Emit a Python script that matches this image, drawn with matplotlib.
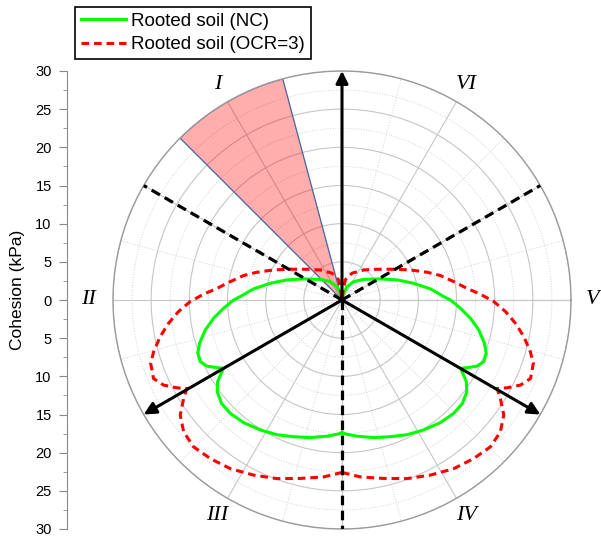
import numpy as np
import matplotlib
matplotlib.use("Agg")
import matplotlib.pyplot as plt
from matplotlib.lines import Line2D
from matplotlib.ticker import MultipleLocator, FuncFormatter

plt.rcParams['font.family'] = ['Liberation Sans', 'DejaVu Sans']

# right half of each curve (angle in degrees, cohesion in kPa), the left half is its mirror image
nc_angle = [-90, -87.9, -83.7, -77, -70.5, -64.2, -57.9, -51.2, -45.4, -40.7, -36.4, -33.3, -30.9, -30,
            -28.8, -26.1, -23.5, -20.3, -16.9, -12.4, -8.1, -4, 0, 1.9, 7.1, 13.1, 20, 28.7,
            43.8, 57.6, 69.4, 76.6, 90]
nc_cohesion = [17.4, 17.6, 17.95, 18.5, 19.0, 19.6, 20.1, 20.6, 20.85, 20.8, 20.3, 19.5, 18.35, 17.9,
               18.45, 19.7, 20.25, 20.15, 19.5, 18.35, 17.0, 15.55, 14.2, 13.35, 11.7, 9.65, 7.7, 5.75,
               3.9, 2.85, 1.85, 0.9, 0.0]

ocr_angle = [-90, -88.9, -84.1, -76.9, -70, -63.2, -56.5, -50.3, -44.7, -39.8, -35.4, -31.8, -29.7,
             -28, -25.5, -22.6, -18.3, -15.4, -11.4, -7.7, -4.1, -0.6, 2.4, 5.3, 9.3, 13.9,
             18, 23.7, 30.7, 41.3, 54.2, 69.5, 80.5, 82.5, 90]
ocr_cohesion = [22.6, 22.7, 23.3, 24.0, 24.9, 25.7, 26.5, 27.0, 27.35, 27.0, 26.0, 24.4, 23.4,
                24.5, 25.9, 26.75, 26.4, 25.6, 24.3, 22.95, 21.5, 19.9, 18.15, 16.45, 14.85, 13.3,
                11.75, 9.8, 7.9, 6.1, 4.85, 3.75, 2.7, 1.5, 0.0]

arrow_angles = [90, 210, 330]
dashed_angles = [30, 150, 270]
wedge_from, wedge_to = 105, 135
sector_names = ["V", "VI", "I", "II", "III", "IV"]
sector_angles = [0, 60, 120, 180, 240, 300]
r_max = 30


def mirror(angle, value):
    a = np.asarray(angle, float)
    v = np.asarray(value, float)
    full_a = np.concatenate([a, 180 - a[::-1][1:]])
    full_v = np.concatenate([v, v[::-1][1:]])
    return np.deg2rad(full_a), full_v


fig = plt.figure(figsize=(6.01, 5.37), dpi=100)
ax = fig.add_axes([113 / 601, 8 / 537, 458 / 601, 458 / 537], projection='polar')
ax.set_ylim(0, r_max)

# grid: solid every 5 kPa / 30 deg, dotted in between
ax.yaxis.set_major_locator(MultipleLocator(5))
ax.yaxis.set_minor_locator(MultipleLocator(2.5))
ax.xaxis.set_major_locator(MultipleLocator(np.pi / 6))
ax.xaxis.set_minor_locator(MultipleLocator(np.pi / 12))
ax.grid(which='major', color='#c6c6c6', lw=0.8, ls='-')
ax.grid(which='minor', color='#d2d2d2', lw=0.7, ls=':')
ax.set_xticklabels([])
ax.set_yticklabels([])
ax.tick_params(which='both', length=0)
ax.spines['polar'].set_color('#9a9a9a')
ax.spines['polar'].set_linewidth(1.0)

# shaded sector
ax.bar(np.deg2rad((wedge_from + wedge_to) / 2), r_max, width=np.deg2rad(wedge_to - wedge_from),
       bottom=0, color=(1, 0, 0, 0.32), edgecolor='#4a64a0', lw=0.9, zorder=1.6)

th, r = mirror(nc_angle, nc_cohesion)
ax.plot(th, r, color='#00ff00', lw=2.2, zorder=3)
th, r = mirror(ocr_angle, ocr_cohesion)
ax.plot(th, r, color='#ff0000', lw=2.2, ls=(0, (2.5, 1.6)), zorder=3)

for a in dashed_angles:
    ax.plot([np.deg2rad(a)] * 2, [0, r_max], color='k', lw=2.3, ls=(0, (3, 1.7)), zorder=4)

for a in arrow_angles:
    ax.annotate('', xy=(np.deg2rad(a), r_max), xytext=(0, 0),
                arrowprops=dict(arrowstyle='-|>', color='k', lw=2.2, mutation_scale=18,
                                shrinkA=0, shrinkB=0), zorder=5)

for name, a in zip(sector_names, sector_angles):
    rr = {0: 32.8, 180: 33.2}.get(a, 32.6)
    ax.text(np.deg2rad(a), rr, name, ha='center', va='center', fontsize=16,
            family='Liberation Serif', style='italic', clip_on=False)

# linear cohesion scale on the left
ax2 = fig.add_axes([67 / 601, 8 / 537, 0.001, 458 / 537])
ax2.set_ylim(-r_max, r_max)
ax2.set_xticks([])
for s in ['top', 'right', 'bottom']:
    ax2.spines[s].set_visible(False)
ax2.spines['left'].set_color('#8a8a8a')
ax2.patch.set_visible(False)
ax2.yaxis.set_major_locator(MultipleLocator(5))
ax2.yaxis.set_minor_locator(MultipleLocator(2.5))
ax2.yaxis.set_major_formatter(FuncFormatter(lambda v, p: f"{abs(v):.0f}"))
ax2.tick_params(which='major', length=6, color='#8a8a8a', labelsize=10.5, pad=5)
ax2.tick_params(which='minor', length=3, color='#8a8a8a')
fig.text(18 / 601, 1 - 290 / 537, 'Cohesion (kPa)', rotation=90, ha='center', va='center', fontsize=12.5)

handles = [Line2D([], [], color='#00ff00', lw=2.2),
           Line2D([], [], color='#ff0000', lw=2.2, ls=(0, (2.5, 1.6)))]
leg = fig.legend(handles, ['Rooted soil (NC)', 'Rooted soil (OCR=3)'], loc='upper left',
                 bbox_to_anchor=(75 / 601, 1 - 7 / 537), fancybox=False, edgecolor='k',
                 framealpha=1, fontsize=13.5, handlelength=2.4, handletextpad=0.3,
                 borderpad=0.3, labelspacing=0.35, borderaxespad=0)
leg.get_frame().set_linewidth(1.2)

fig.savefig('out.png', dpi=100)
